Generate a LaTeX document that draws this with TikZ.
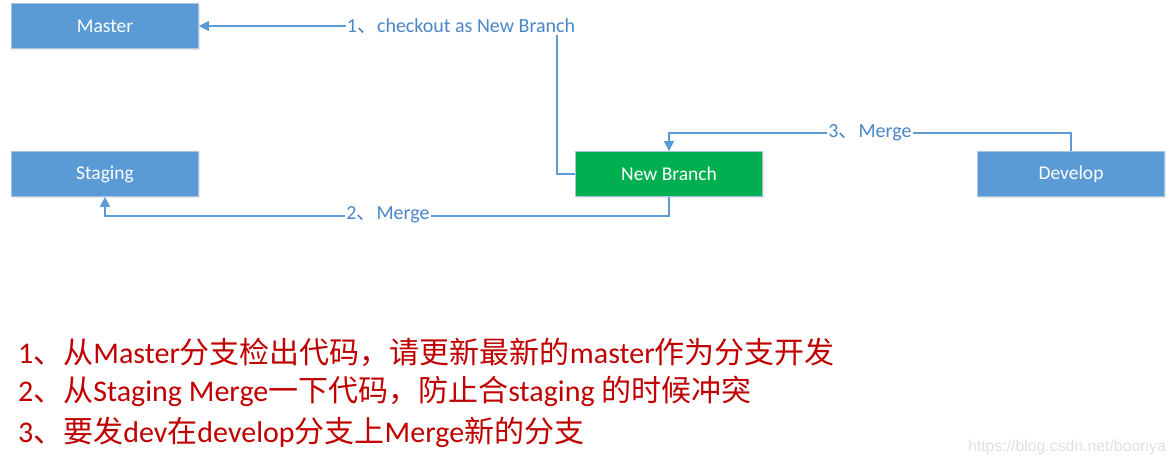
\documentclass[tikz,border=0pt]{standalone}
\usepackage{fontspec}
\setmainfont{Carlito}
\newfontfamily\cjk{Noto Sans CJK SC}
\newfontfamily\wmfont{Liberation Sans}
\usetikzlibrary{arrows.meta,shadows}
\definecolor{boxblue}{HTML}{5B9BD5}
\definecolor{boxgreen}{HTML}{00B050}
\definecolor{lineblue}{HTML}{5B9BD5}
\definecolor{labelblue}{HTML}{4A86C8}
\definecolor{noteRed}{HTML}{C00000}
\definecolor{boxedge}{HTML}{A8C4E2}
\tikzset{
  branchbox/.style={draw=boxedge, line width=0.8pt, minimum width=187pt, minimum height=45pt,
    inner sep=0pt, text=white, font=\fontsize{19.5}{22}\selectfont,
    drop shadow={opacity=0.18, shadow xshift=1.2pt, shadow yshift=-1.2pt}},
  conn/.style={draw=lineblue, line width=1.5pt, -{Triangle[length=10pt,width=10pt]}},
  connlabel/.style={fill=white, inner sep=1pt, text=labelblue, font=\fontsize{20}{22}\selectfont},
  note/.style={anchor=west, text=noteRed, font=\fontsize{30}{34}\selectfont, inner sep=0pt}
}
\begin{document}
\begin{tikzpicture}[x=1pt,y=-1pt]
\useasboundingbox (0,0) rectangle (1174,465);
\node[branchbox, fill=boxblue] (master) at (105,26) {Master};
\node[branchbox, fill=boxblue] (staging) at (105,174) {Staging};
\node[branchbox, fill=boxgreen] (nb) at (669,174) {New Branch};
\node[branchbox, fill=boxblue] (dev) at (1071,174) {Develop};

\draw[conn] (nb.west) -- ++(-18,0) |- (master.east);
\draw[conn] (nb.south) -- ++(0,19) -| (staging.south);
\draw[conn] (dev.north) -- ++(0,-18) -| (nb.north);

\node[connlabel] (l1) at (461,26) {1{\cjk 、}checkout as New Branch};
\node[connlabel] (l2) at (388,215) {2{\cjk 、}Merge};
\node[connlabel] (l3) at (870,133) {3{\cjk 、}Merge};

\node[note] (n1) at (18,352) {1{\cjk 、从}Master{\cjk 分支检出代码，请更新最新的}master{\cjk 作为分支开发}};
\node[note] (n2) at (18,391) {2{\cjk 、从}Staging Merge{\cjk 一下代码，防止合}staging {\cjk 的时候冲突}};
\node[note] (n3) at (18,432) {3{\cjk 、要发}dev{\cjk 在}develop{\cjk 分支上}Merge{\cjk 新的分支}};

\node[anchor=east, text=black!12, font=\wmfont\fontsize{15.8}{18}\selectfont, inner sep=0pt] (wm) at (1166,447) {https://blog.csdn.net/boonya};
\end{tikzpicture}
\end{document}
